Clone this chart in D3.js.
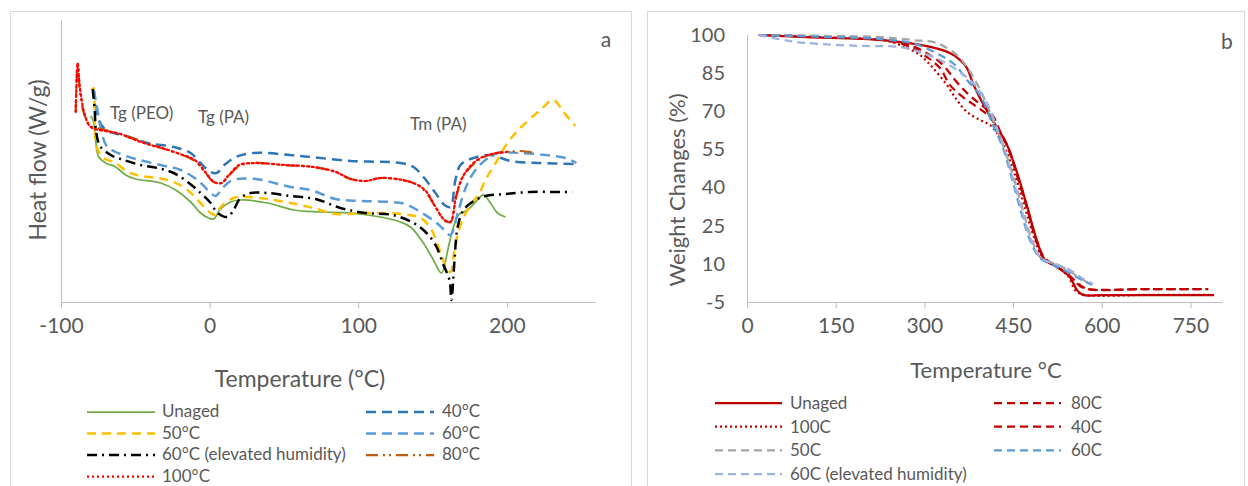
<!DOCTYPE html>
<html>
<head>
<meta charset="utf-8">
<title>DSC and TGA</title>
<style>
  body { margin: 0; background: #fff; }
  text { font-family: Lato, "Open Sans", sans-serif; fill: #595959; }
  .axis path, .axis line { stroke: #BFBFBF; }
</style>
</head>
<body>
<svg id="chart" width="1248" height="486"></svg>
<script src="https://d3js.org/d3.v7.min.js"></script>
<script>

// ---- panel a: DSC, [temperature °C, heat flow W/g] ----
const dscTicks = [-100, 0, 100, 200]
const dscUnaged = [[-80,-0.96],[-78,-1.02],[-76.7,-1.20],[-74.6,-1.37],[-69.9,-1.43],[-63.2,-1.47],[-56.5,-1.55],[-49.8,-1.59],[-33,-1.63],[-22.9,-1.70],[-12.8,-1.82],[-6.1,-1.93],[-0.7,-1.98],[2.7,-1.99],[7.4,-1.89],[14.1,-1.82],[20.8,-1.80],[39,-1.83],[56.5,-1.90],[74.6,-1.92],[94.8,-1.93],[115,-1.97],[128.4,-2.02],[135.2,-2.07],[143.9,-2.23],[150.6,-2.40],[156,-2.53],[160.7,-2.27],[164.1,-2.07],[167.5,-1.95],[173.5,-1.90],[180.2,-1.80],[184.3,-1.75],[189,-1.83],[193.7,-1.93],[199.1,-1.97]]
const dsc40 = [[-78,-0.69],[-76.7,-0.85],[-74.6,-1.00],[-71.3,-1.08],[-66.6,-1.12],[-56.5,-1.16],[-41.7,-1.23],[-24.2,-1.27],[-12.8,-1.33],[-6.1,-1.43],[0.7,-1.52],[4.7,-1.53],[10,-1.45],[17.5,-1.37],[29.6,-1.33],[61.2,-1.36],[94.8,-1.41],[128.4,-1.43],[137.2,-1.47],[143.9,-1.57],[152,-1.73],[158,-1.85],[162,-1.87],[165.4,-1.60],[168.8,-1.45],[175.5,-1.39],[189,-1.35],[202.4,-1.41],[222.6,-1.43],[246.1,-1.44]]
const dsc50 = [[-78.7,-0.70],[-78,-0.68],[-77.3,-0.98],[-76,-1.27],[-71.3,-1.38],[-63.2,-1.43],[-55.1,-1.52],[-46.4,-1.56],[-35,-1.58],[-24.2,-1.62],[-14.8,-1.70],[-6.1,-1.83],[0.7,-1.93],[4,-1.95],[7.4,-1.87],[16.1,-1.78],[25.6,-1.77],[39,-1.79],[54.5,-1.83],[69.9,-1.88],[84.7,-1.94],[104.9,-1.93],[128.4,-1.94],[141.9,-1.98],[148.6,-2.08],[155.3,-2.32],[159.4,-2.48],[162.1,-2.52],[164.8,-2.30],[168.8,-2.05],[175.5,-1.85],[180.9,-1.75],[185.6,-1.60],[191.7,-1.45],[200.4,-1.23],[209.1,-1.08],[222.6,-0.90],[231.3,-0.80],[238.1,-0.92],[246.1,-1.06]]
const dsc60 = [[-78,-0.70],[-76,-0.85],[-73.3,-1.08],[-69.3,-1.26],[-63.2,-1.32],[-49.8,-1.39],[-33,-1.45],[-19.5,-1.50],[-7.4,-1.61],[0.7,-1.73],[4,-1.76],[8.7,-1.68],[15.5,-1.60],[30.9,-1.59],[54.5,-1.67],[67.9,-1.70],[84.7,-1.79],[101.5,-1.81],[121.7,-1.82],[131.8,-1.84],[141.9,-1.92],[152,-2.02],[158,-2.10],[162,-2.15],[167.5,-1.90],[172.8,-1.66],[178.9,-1.50],[185.6,-1.40],[193.7,-1.33],[209.1,-1.33],[226,-1.35],[239.4,-1.38],[246.8,-1.43]]
const dsc60h = [[-78.7,-0.69],[-77.3,-0.90],[-76.7,-1.07],[-75.3,-1.20],[-73.3,-1.27],[-66.6,-1.35],[-57.8,-1.40],[-46.4,-1.45],[-35,-1.48],[-24.2,-1.53],[-14.8,-1.62],[-6.1,-1.73],[0.7,-1.83],[5.4,-1.93],[12.1,-1.97],[16.1,-1.90],[20.8,-1.78],[27.6,-1.73],[39,-1.73],[54.5,-1.76],[71.3,-1.79],[88.1,-1.88],[104.9,-1.93],[123.1,-1.95],[137.2,-2.03],[145.3,-2.12],[152,-2.25],[157.4,-2.45],[161.4,-2.60],[162.7,-2.80],[164.8,-2.40],[166.8,-2.08],[170.8,-1.90],[178.9,-1.80],[185.6,-1.76],[199.1,-1.74],[215.9,-1.72],[236,-1.72],[244.1,-1.72]]
const dsc80 = [[-90.1,-0.92],[-88.8,-0.44],[-87.5,-0.68],[-86.1,-0.84],[-83.4,-0.98],[-80,-1.06],[-69.9,-1.10],[-59.9,-1.14],[-49.8,-1.19],[-39.7,-1.24],[-30.3,-1.29],[-20.2,-1.34],[-10.1,-1.41],[-2.7,-1.53],[2.7,-1.62],[8.1,-1.63],[12.8,-1.56],[20.2,-1.46],[30.3,-1.43],[49.8,-1.45],[69.9,-1.47],[84.7,-1.52],[94.8,-1.59],[104.9,-1.61],[115,-1.58],[129.8,-1.60],[139.9,-1.65],[145.9,-1.73],[152,-1.87],[158,-2.00],[162.1,-2.02],[166.1,-1.76],[170.8,-1.56],[180.2,-1.41],[190.3,-1.34],[199.7,-1.32],[209.1,-1.31],[219.2,-1.33]]
const dsc100 = [[-90.1,-0.92],[-88.8,-0.43],[-87.5,-0.65],[-86.1,-0.80],[-84,-0.95],[-80,-1.07],[-70,-1.11],[-60,-1.14],[-50,-1.20],[-40,-1.25],[-30,-1.29],[-20,-1.34],[-10,-1.40],[-3,-1.52],[3,-1.62],[8,-1.63],[13,-1.55],[20,-1.45],[30,-1.43],[50,-1.45],[70,-1.47],[85,-1.52],[95,-1.59],[105,-1.61],[115,-1.58],[130,-1.60],[140,-1.65],[146,-1.72],[152,-1.87],[158,-2.00],[162,-2.02],[166,-1.75],[171,-1.55],[180,-1.40],[190,-1.34],[200,-1.32]]

const dscSeries = [
  {name: "Unaged", data: dscUnaged, color: "#70AD47", dash: null, w: 1.75},
  {name: "40°C", data: dsc40, color: "#2E75B6", dash: "10,6", w: 2.5},
  {name: "50°C", data: dsc50, color: "#FFC000", dash: "9,6", w: 2.5},
  {name: "60°C", data: dsc60, color: "#5B9BD5", dash: "10,6", w: 2.5},
  {name: "60°C (elevated humidity)", data: dsc60h, color: "#000000", dash: "10,5,2,5", w: 2.5},
  {name: "80°C", data: dsc80, color: "#C55A11", dash: "12,5,2,4,2,5", w: 2.25},
  {name: "100°C", data: dsc100, color: "#FF0000", dash: "2,3", w: 2.25}
]

// ---- panel b: TGA, [temperature °C, weight %] ----
const tgaXTicks = [0, 150, 300, 450, 600, 750]
const tgaYTicks = [-5, 10, 25, 40, 55, 70, 85, 100]
const tgaUnaged = [[20,100],[100,99.2],[230,98],[310,95.3],[343,92.9],[360,90.2],[372,87],[382,81.1],[394,75.2],[411,68.1],[428,61.8],[440,56.7],[457,45.7],[474,32.4],[490,19.4],[504,11.5],[524,8.8],[546,4.8],[558,-0.3],[568,-2.2],[600,-2.3],[700,-2.3],[790,-2.3]]
const tga80 = [[20,100],[140,99.2],[242,98],[279,95.7],[309.5,92.1],[331.5,88.2],[351.8,82.3],[372,77.2],[394,72.9],[414.3,68.9],[427.9,62.2],[441.4,56],[456.6,45.3],[473.5,32.4],[488.8,19.8],[502.3,12.7],[522.6,9.2],[546.2,5.2],[563.2,1.3],[576.7,0.1],[680,0.1],[780,0.1]]
const tga100 = [[20,100],[123,99.2],[230,98],[258.7,96.1],[292.6,92.1],[314.6,87],[338.2,80.3],[355.1,74.4],[372,69.7],[394,66.6],[411,64.6],[422.8,61.5],[436.3,55.6],[453.2,44.9],[470.1,32],[487.1,19.4],[500.6,12.3],[520.9,9.2],[542.9,5.2],[556.4,-0.7],[571.6,-2.2],[680,-2.2],[788,-2.2]]
const tga40 = [[20,100],[140,99.2],[242,97.6],[275.7,95.3],[304.4,91.3],[326.4,87],[343.3,80.3],[365.3,75.6],[389,71.7],[411,67.7],[427.9,61.5],[441.4,55.6],[456.6,44.9],[473.5,32],[488.8,19.4],[502.3,12.3],[522.6,9.2],[546.2,5.2],[563.2,1.7],[576.7,0.1],[680,0.1],[780,0.1]]
const tga50 = [[20,100],[140,99.6],[225,99.2],[280.7,98],[321.3,96.8],[355.1,92.1],[372,87.4],[385.6,82.3],[402.5,74.4],[419.4,64.6],[432.9,56.7],[448.2,46.1],[465.1,32.4],[482,19.4],[497.2,12.3],[520.9,9.9],[542.9,7.6],[563.2,4.4],[583.4,1.7]]
const tga60 = [[20,100],[140,99.2],[225,98.4],[284,96.5],[326.4,92.1],[351.8,88.2],[372,82.3],[394,76.4],[416,64.6],[432.9,55.6],[446.5,44.9],[461.7,32],[478.6,19.4],[495.5,12.3],[520.9,9.2],[542.9,6.8],[563.2,4],[583.4,1.7]]
const tga60h = [[20,100],[72.7,97.6],[123.5,96.5],[191.1,95.7],[258.7,95.3],[292.6,93.3],[326.4,90.2],[360.2,85.4],[385.6,80.3],[407.6,72.5],[422.8,63.4],[434.6,55.6],[448.2,44.9],[463.4,32],[480.3,19.4],[497.2,12.3],[522.6,9.9],[546.2,7.6],[566.5,4.4],[585.1,2.1]]

const tgaSeries = [
  {name: "Unaged", data: tgaUnaged, color: "#C00000", dash: null, w: 2.25},
  {name: "80C", data: tga80, color: "#C00000", dash: "8,5", w: 2.25},
  {name: "100C", data: tga100, color: "#C00000", dash: "2,3", w: 2.25},
  {name: "40C", data: tga40, color: "#C00000", dash: "8,5", w: 2.25},
  {name: "50C", data: tga50, color: "#A5A5A5", dash: "8,5", w: 2.25},
  {name: "60C", data: tga60, color: "#5B9BD5", dash: "8,5", w: 2.25},
  {name: "60C (elevated humidity)", data: tga60h, color: "#9DB3E0", dash: "8,5", w: 2.25}
]

const svg = d3.select("#chart")

// panel frames
svg.append("rect").attr("x", 10.5).attr("y", 11.5).attr("width", 621).attr("height", 500)
  .attr("fill", "none").attr("stroke", "#D9D9D9")
svg.append("rect").attr("x", 647.5).attr("y", 11.5).attr("width", 597).attr("height", 500)
  .attr("fill", "none").attr("stroke", "#D9D9D9")

/* ---------- panel a ---------- */
const xa = d3.scaleLinear().domain([-100, 260]).range([61, 596])
const ya = d3.scaleLinear().domain([-2.82, 0]).range([302, 20])

svg.append("line").attr("x1", 61.5).attr("x2", 61.5).attr("y1", 20).attr("y2", 302)
  .attr("stroke", "#BFBFBF")

const axA = svg.append("g").attr("class", "axis")
  .attr("transform", "translate(0,302.5)")
  .call(d3.axisBottom(xa).tickValues(dscTicks).tickSize(6).tickPadding(10).tickFormat(d => String(d)))
axA.select(".domain").attr("d", "M61,0H596")
axA.selectAll("text").attr("font-size", 21).style("fill", "#595959")
  .style("font-family", "Lato, sans-serif")

const lineA = d3.line().x(d => xa(d[0])).y(d => ya(d[1])).curve(d3.curveCatmullRom.alpha(0.5))
svg.append("g").selectAll("path")
  .data(dscSeries).enter().append("path")
  .attr("d", d => lineA(d.data))
  .attr("fill", "none")
  .attr("stroke", d => d.color)
  .attr("stroke-width", d => d.w)
  .attr("stroke-dasharray", d => d.dash)
  .attr("stroke-linecap", d => d.dash === "2,3" ? "round" : "butt")

svg.append("text").attr("transform", "translate(46,160) rotate(-90)")
  .attr("text-anchor", "middle").attr("font-size", 23).text("Heat flow (W/g)")
svg.append("text").attr("x", 300).attr("y", 387).attr("text-anchor", "middle")
  .attr("font-size", 23).text("Temperature (°C)")
svg.append("text").attr("x", 606).attr("y", 47).attr("text-anchor", "middle")
  .attr("font-size", 21).text("a")

const notes = [["Tg (PEO)", 110, 119], ["Tg (PA)", 198, 123], ["Tm (PA)", 410, 130]]
svg.selectAll("text.note").data(notes).enter().append("text")
  .attr("class", "note").attr("x", d => d[1]).attr("y", d => d[2])
  .attr("font-size", 17).text(d => d[0])

// legend a
const legA = svg.append("g").selectAll("g")
  .data(dscSeries).enter().append("g")
  .attr("transform", (d, i) => "translate(" + (i % 2 ? 366 : 87) + "," + (412 + Math.floor(i / 2) * 21.5) + ")")
legA.append("line").attr("x1", 0).attr("x2", 68).attr("y1", 0).attr("y2", 0)
  .attr("stroke", d => d.color).attr("stroke-width", d => d.w)
  .attr("stroke-dasharray", d => d.dash)
legA.append("text").attr("x", (d, i) => i % 2 ? 76 : 75).attr("y", 5)
  .attr("font-size", 17).text(d => d.name)

/* ---------- panel b ---------- */
const xb = d3.scaleLinear().domain([0, 800]).range([747, 1220])
const yb = d3.scaleLinear().domain([-5, 100]).range([302, 35])

svg.append("line").attr("x1", 747.5).attr("x2", 747.5).attr("y1", 35).attr("y2", 302)
  .attr("stroke", "#BFBFBF")

const axB = svg.append("g").attr("class", "axis")
  .attr("transform", "translate(0,302.5)")
  .call(d3.axisBottom(xb).tickValues(tgaXTicks).tickSize(6).tickPadding(10))
axB.select(".domain").attr("d", "M747,0H1222")
axB.selectAll("text").attr("font-size", 21).style("fill", "#595959")
  .style("font-family", "Lato, sans-serif")

const axBy = svg.append("g").attr("transform", "translate(747,0)")
  .call(d3.axisLeft(yb).tickValues(tgaYTicks).tickSize(0).tickPadding(22).tickFormat(d => String(d)))
axBy.select(".domain").remove()
axBy.selectAll("text").attr("font-size", 20).style("fill", "#595959")
  .style("font-family", "Lato, sans-serif")

const lineB = d3.line().x(d => xb(d[0])).y(d => yb(d[1])).curve(d3.curveCatmullRom.alpha(0.5))
svg.append("g").selectAll("path")
  .data(tgaSeries).enter().append("path")
  .attr("d", d => lineB(d.data))
  .attr("fill", "none")
  .attr("stroke", d => d.color)
  .attr("stroke-width", d => d.w)
  .attr("stroke-dasharray", d => d.dash)

svg.append("text").attr("transform", "translate(685,190) rotate(-90)")
  .attr("text-anchor", "middle").attr("font-size", 22).text("Weight Changes (%)")
svg.append("text").attr("x", 986).attr("y", 378).attr("text-anchor", "middle")
  .attr("font-size", 22).text("Temperature °C")
svg.append("text").attr("x", 1227).attr("y", 49).attr("text-anchor", "middle")
  .attr("font-size", 21).text("b")

// legend b
const legB = svg.append("g").selectAll("g")
  .data(tgaSeries).enter().append("g")
  .attr("transform", (d, i) => "translate(" + (i % 2 ? 994 : 715) + "," + (403 + Math.floor(i / 2) * 23.7) + ")")
legB.append("line").attr("x1", 0).attr("x2", 67).attr("y1", 0).attr("y2", 0)
  .attr("stroke", d => d.color).attr("stroke-width", d => d.w)
  .attr("stroke-dasharray", d => d.dash)
legB.append("text").attr("x", (d, i) => i % 2 ? 77 : 75).attr("y", 6)
  .attr("font-size", 17).text(d => d.name)

</script>
</body>
</html>
